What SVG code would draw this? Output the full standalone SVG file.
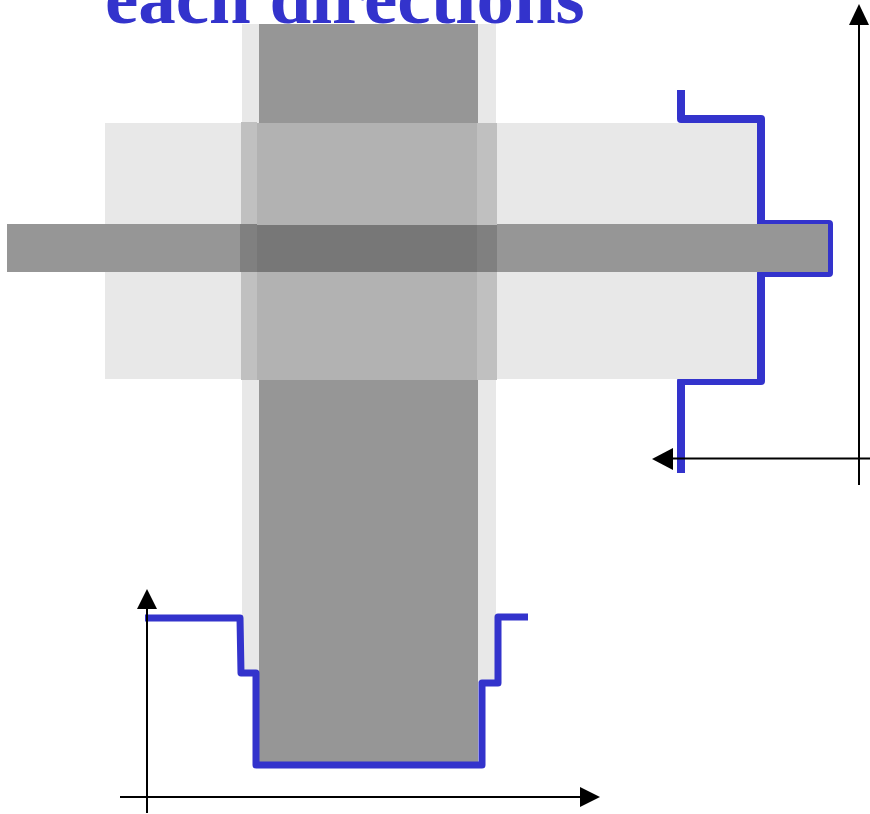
<svg xmlns="http://www.w3.org/2000/svg" width="870" height="814" viewBox="0 0 870 814">
<style>
.light{fill:#e8e8e8}
.dark{fill:#969696}
.ll{fill:#c0c0c0}
.dl{fill:#b2b2b2}
.ld{fill:#808080}
.dd{fill:#777777}
.blue{fill:none;stroke:#3333cc;stroke-linejoin:round}
.axis{stroke:#000;stroke-width:2;fill:none}
.head{fill:#000}
.title{font-family:"Liberation Serif","Times New Roman",serif;font-weight:bold;font-size:75px;fill:#3333cc}
</style>
<rect width="870" height="814" fill="#fff"/>
<g id="title"><text class="title" x="105" y="23">each directions</text></g>
<g id="profile-right">
<path class="blue" stroke-width="8" d="M681,90 V119 H761 V224 H829 V273 H761 V381 H681 V473"/>
</g>
<g id="vertical-strip">
<rect class="light" x="242" y="24" width="17" height="648"/>
<rect class="light" x="478" y="24" width="18" height="659"/>
<rect class="dark" x="259" y="24" width="219" height="738"/>
</g>
<g id="horizontal-strip">
<rect class="light" x="105" y="123" width="652" height="256"/>
<rect class="dark" x="7" y="224" width="821" height="48"/>
</g>
<g id="overlaps">
<rect class="ll" x="241" y="122" width="16" height="258"/>
<rect class="ll" x="477" y="123" width="20" height="257"/>
<rect class="dl" x="257" y="123" width="220" height="257"/>
<rect class="ld" x="240" y="224" width="17" height="48"/>
<rect class="ld" x="477" y="225" width="20" height="47"/>
<rect class="dd" x="257" y="225" width="220" height="47"/>
</g>
<g id="profile-bottom">
<path class="blue" stroke-width="7" d="M145,618 H240 L241,673 H256 V765 H482 V683 H498 V617 H528"/>
</g>
<g id="axes-right">
<line class="axis" x1="859" y1="22" x2="859" y2="485"/>
<polygon class="head" points="859,4 849,25 869,25"/>
<line class="axis" x1="870" y1="458.5" x2="670" y2="458.5"/>
<polygon class="head" points="652,459 673,448 673,470"/>
</g>
<g id="axes-bottom">
<line class="axis" x1="147" y1="813" x2="147" y2="606"/>
<polygon class="head" points="147,589 137,609 157,609"/>
<line class="axis" x1="120" y1="797" x2="583" y2="797"/>
<polygon class="head" points="600,797 580,787 580,807"/>
</g>
</svg>
